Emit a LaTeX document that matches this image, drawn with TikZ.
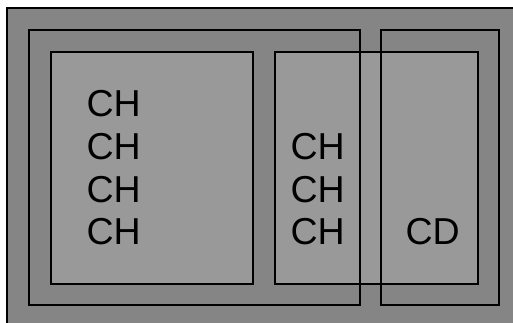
\documentclass[tikz,border=0pt]{standalone}
\usepackage{fontspec}
\setmainfont{Liberation Sans}
\definecolor{darkbg}{RGB}{133,133,133}
\definecolor{lightbox}{RGB}{153,153,153}
\begin{document}
\begin{tikzpicture}[x=1pt,y=-1pt,
  line width=1.3pt,
  boxstyle/.style={draw=black,fill=lightbox},
  groupstyle/.style={draw=black},
  lbl/.style={anchor=base west,inner sep=0pt,font=\fontsize{37.5}{42}\selectfont}]
\useasboundingbox (0,0) rectangle (513,323);
\fill[white] (0,0) rectangle (513,323);
\filldraw[fill=darkbg,draw=black] (7,8) rectangle (530,340);
\path[boxstyle] (51,52) rectangle (253,284);
\path[boxstyle] (275,52) rectangle (478,284);
\path[groupstyle] (29,30) rectangle (360,305);
\path[groupstyle] (381,30) rectangle (499,305);
\node[lbl] (a1) at (86,117) {CH};
\node[lbl] (a2) at (86,159) {CH};
\node[lbl] (a3) at (86,202) {CH};
\node[lbl] (a4) at (86,244) {CH};
\node[lbl] (b1) at (290,159) {CH};
\node[lbl] (b2) at (290,202) {CH};
\node[lbl] (b3) at (290,244) {CH};
\node[lbl] (c1) at (405,244) {CD};
\end{tikzpicture}
\end{document}
